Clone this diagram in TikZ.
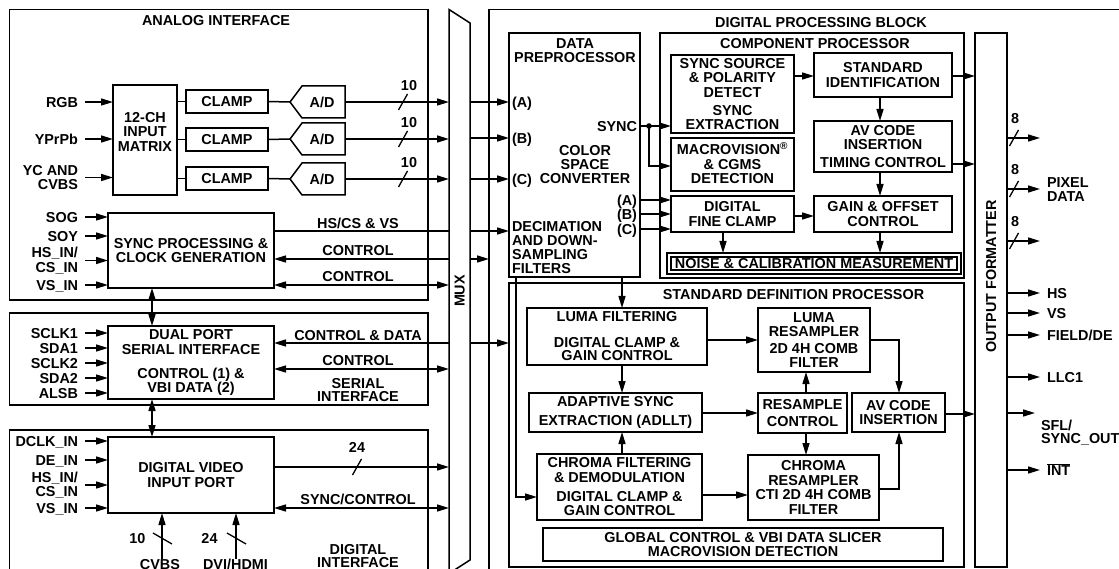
\documentclass[tikz,border=0pt]{standalone}
\usepackage{fontspec}
\setmainfont{Liberation Sans}
\usetikzlibrary{arrows.meta}
\tikzset{
  every node/.style={font=\fontsize{14.4}{14.5}\selectfont\bfseries, inner sep=0pt, outer sep=0pt},
  box/.style={draw, line width=1.5pt, align=center},
  ln/.style={line width=1.5pt},
  arr/.style={ln,-{Triangle[length=12pt,width=7pt]}},
  darr/.style={ln,{Triangle[length=12pt,width=7pt]}-{Triangle[length=12pt,width=7pt]}},
  lbl/.style={text height=10.3pt, text depth=0pt},
}
\newcommand\blk[7][]{\node[box,minimum width={#5-#3},minimum height={#6-#4},#1] (#2) at ({(#3+#5)/2},{(#4+#6)/2}) {#7};}
\newcommand\busmark[2]{\draw[line width=1.3pt] (#1-4.5,#2+8) -- (#1+4.5,#2-8);}
\begin{document}
\begin{tikzpicture}[x=1pt,y=-1pt]
\useasboundingbox (0,0) rectangle (1119,569);
\fill[white] (0,0) rectangle (1119,569);
\clip (0,0) rectangle (1119,569);

% ---------- containers ----------
\blk{ai}{9.5}{9.5}{428}{300}{}
\blk{si}{9.5}{313}{428}{405}{}
\blk{di}{9.5}{430}{428}{600}{}
\blk{dpb}{489}{9.5}{1140}{600}{}
\node[lbl] (tai) at (216,20) {ANALOG INTERFACE};
\node[lbl] (tdpb) at (821,22) {DIGITAL PROCESSING BLOCK};

% ---------- MUX ----------
\draw[ln] (449,573.5) -- (449,9.5) -- (470,23) -- (470,560) -- cycle;
\coordinate (muxl) at (449,0);
\coordinate (muxr) at (470,0);
\node[lbl,rotate=90] (tmux) at (459.5,291) {MUX};

% ---------- analog front end ----------
\blk{mtx}{113}{85}{177}{195}{}
\node[align=center] (tmtx) at (145,131.5) {12-CH\\INPUT\\MATRIX};
\blk{clA}{186}{90}{268}{113}{CLAMP}
\blk{clB}{186}{128}{268}{151}{CLAMP}
\blk{clC}{186}{167}{268}{190}{CLAMP}
\foreach \c/\n in {102/A,139/B,179/C}{
  \draw[ln] (290,\c) -- (302,\c-16) -- (345,\c-16) -- (345,\c+16) -- (302,\c+16) -- cycle;
  \coordinate (ad\n i) at (290,\c);
  \coordinate (ad\n o) at (345,\c);
  \node[lbl] (tad\n) at (322,\c) {A/D};
  \node[lbl] (ten\n) at (409,\c-17) {10};
  \busmark{403}{\c}
}
\draw[ln] (mtx.east |- clA.west) -- (clA.west);
\draw[ln] (mtx.east |- clB.west) -- (clB.west);
\draw[ln] (mtx.east |- clC.west) -- (clC.west);
\draw[ln] (clA.east) -- (adAi);
\draw[ln] (clB.east) -- (adBi);
\draw[ln] (clC.east) -- (adCi);
\draw[arr] (adAo) -- (muxl |- adAo);
\draw[arr] (adBo) -- (muxl |- adBo);
\draw[arr] (adCo) -- (muxl |- adCo);

\node[lbl,anchor=east] (rgb) at (78,102) {RGB};
\node[lbl,anchor=east] (ypb) at (78,139) {YPrPb};
\node[anchor=east,align=right] (ycv) at (78,177.5) {YC AND\\CVBS};
\draw[arr] ([xshift=7pt]rgb.east) -- (mtx.west |- rgb.east);
\draw[arr] ([xshift=7pt]ypb.east) -- (mtx.west |- ypb.east);
\draw[arr] ([xshift=7pt]ycv.east) -- (mtx.west |- ycv.east);

% ---------- sync processing ----------
\blk{syn}{108}{213}{274}{288}{SYNC PROCESSING \&\\CLOCK GENERATION}
\node[lbl,anchor=east] (sog) at (78,217) {SOG};
\node[lbl,anchor=east] (soy) at (78,236) {SOY};
\node[anchor=east,align=right] (hsa) at (78,260.5) {HS\_IN/\\CS\_IN};
\node[lbl,anchor=east] (vsa) at (78,285) {VS\_IN};
\foreach \n in {sog,soy,hsa,vsa}{\draw[arr] ([xshift=7pt]\n.east) -- (syn.west |- \n.east);}

\draw[ln] (syn.east |- 0,231) -- (muxl |- 0,231);
\draw[arr] (muxl |- 0,259) -- (syn.east |- 0,259);
\draw[darr] (syn.east |- 0,285) -- (muxl |- 0,285);
\node[lbl] (lhs) at (358,223) {HS/CS \& VS};
\node[lbl] (lc1) at (358,250) {CONTROL};
\node[lbl] (lc2) at (358,276) {CONTROL};

% ---------- serial interface ----------
\blk{ser}{108}{326}{274}{399}{DUAL PORT\\SERIAL INTERFACE\\[9.5pt]CONTROL (1) \&\\VBI DATA (2)}
\node[lbl,anchor=east] (sc1) at (78,333) {SCLK1};
\node[lbl,anchor=east] (sd1) at (78,348) {SDA1};
\node[lbl,anchor=east] (sc2) at (78,363) {SCLK2};
\node[lbl,anchor=east] (sd2) at (78,378) {SDA2};
\node[lbl,anchor=east] (als) at (78,393) {ALSB};
\foreach \n in {sc1,sd1,sc2,sd2,als}{\draw[arr] ([xshift=7pt]\n.east) -- (ser.west |- \n.east);}
\draw[darr] (syn.south -| 152,0) -- (ser.north -| 152,0);
\draw[arr] (muxl |- 0,343) -- (ser.east |- 0,343);
\draw[darr] (ser.east |- 0,369) -- (muxl |- 0,369);
\node[lbl] (lcd) at (358,335) {CONTROL \& DATA};
\node[lbl] (lc3) at (358,360) {CONTROL};
\node[align=center] (lsi) at (358,390.5) {SERIAL\\[-1.5pt]INTERFACE};

% ---------- digital video input ----------
\blk{dvip}{108}{437}{274}{513}{DIGITAL VIDEO\\INPUT PORT}
\node[lbl,anchor=east] (dck) at (78,441) {DCLK\_IN};
\node[lbl,anchor=east] (den) at (78,460) {DE\_IN};
\node[anchor=east,align=right] (hsd) at (78,485) {HS\_IN/\\CS\_IN};
\node[lbl,anchor=east] (vsd) at (78,508) {VS\_IN};
\foreach \n in {dck,den,hsd,vsd}{\draw[arr] ([xshift=7pt]\n.east) -- (dvip.west |- \n.east);}
\draw[darr] (ser.south -| 152,0) -- (dvip.north -| 152,0);
\draw[arr] (dvip.east |- 0,467) -- (muxl |- 0,467);
\busmark{357}{467}
\node[lbl] (l24) at (357,447) {24};
\draw[darr] (dvip.east |- 0,508) -- (muxl |- 0,508);
\node[lbl] (lsc) at (358,499) {SYNC/CONTROL};
\node[lbl] (cvbs) at (160,564) {CVBS};
\node[lbl] (dvi) at (235.5,564) {DVI/HDMI};
\draw[arr] (cvbs.north -| 162,0) -- (dvip.south -| 162,0);
\draw[arr] (dvi.north -| 236,0) -- (dvip.south -| 236,0);
\draw[line width=1.3pt] (153,533) -- (172,544);
\draw[line width=1.3pt] (227,533) -- (246,544);
\node[lbl] (l10b) at (137.5,538) {10};
\node[lbl] (l24b) at (209.5,538) {24};
\node[align=center] (ldi) at (358,556.5) {DIGITAL\\[-1.5pt]INTERFACE};

% ---------- data preprocessor ----------
\blk{dpp}{509}{33}{640}{277}{}
\node[align=center] (tdpp) at (575,50.5) {DATA\\PREPROCESSOR};
\node[lbl,anchor=west] (pa) at (512,102) {(A)};
\node[lbl,anchor=west] (pb) at (512,138) {(B)};
\node[lbl,anchor=west] (pc) at (512,179) {(C)};
\node[align=center] (tcsc) at (585,165) {COLOR\\[-0.5pt]SPACE\\[-0.5pt]CONVERTER};
\node[lbl,anchor=east] (tsync) at (637,126) {SYNC};
\node[anchor=west,align=left] (tdec) at (512,248) {DECIMATION\\[-0.5pt]AND DOWN-\\[-0.5pt]SAMPLING\\[-0.5pt]FILTERS};
\node[lbl,anchor=east] (qa) at (637,200) {(A)};
\node[lbl,anchor=east] (qb) at (637,214) {(B)};
\node[lbl,anchor=east] (qc) at (637,229) {(C)};

\draw[arr] (muxr |- pa.west) -- (dpp.west |- pa.west);
\draw[arr] (muxr |- pb.west) -- (dpp.west |- pb.west);
\draw[arr] (muxr |- pc.west) -- (dpp.west |- pc.west);
\draw[arr] (muxr |- 0,231) -- (dpp.west |- 0,231);
\draw[arr] (muxr |- 0,259) -- (dpb.west |- 0,259);

% ---------- component processor ----------
\blk{cp}{660}{33}{964}{278}{}
\node[lbl] (tcp) at (815,43) {COMPONENT PROCESSOR};
\blk{ssd}{671}{55}{794}{133}{SYNC SOURCE\\\& POLARITY\\DETECT\\[3.5pt]SYNC\\EXTRACTION}
\blk{mcv}{671}{138}{794}{191}{MACROVISION\smash{\textsuperscript{\textregistered}}\\\& CGMS\\DETECTION}
\blk{fcl}{671}{196}{794}{232}{DIGITAL\\FINE CLAMP}
\blk{sid}{814}{53}{952}{97}{STANDARD\\IDENTIFICATION}
\blk{avc}{814}{121}{952}{172}{AV CODE\\INSERTION\\[3.5pt]TIMING CONTROL}
\blk{gof}{814}{196}{952}{232}{GAIN \& OFFSET\\CONTROL}
\blk[line width=1.2pt]{noise}{667}{253}{961}{274}{}
\blk[line width=1.2pt]{noisei}{671}{257}{957}{270}{NOISE \& CALIBRATION MEASUREMENT}

\coordinate (sdot) at (649,126);
\draw[arr] (dpp.east |- sdot) -- (ssd.west |- sdot);
\draw[arr] (sdot) |- (mcv.west |- 0,166);
\fill (sdot) circle (2.8pt);
\draw[arr] (dpp.east |- qa.east) -- (fcl.west |- qa.east);
\draw[arr] (dpp.east |- qb.east) -- (fcl.west |- qb.east);
\draw[arr] (dpp.east |- qc.east) -- (fcl.west |- qc.east);
\draw[arr] (ssd.east |- 0,76) -- (sid.west |- 0,76);
\draw[arr] (sid.south -| 880,0) -- (avc.north -| 880,0);
\draw[arr] (avc.south -| 880,0) -- (gof.north -| 880,0);
\draw[arr] (gof.south -| 880,0) -- (noise.north -| 880,0);
\draw[arr] (fcl.south -| 723,0) -- (noise.north -| 723,0);
\draw[arr] (fcl.east |- 0,216) -- (gof.west |- 0,216);

% ---------- output formatter ----------
\blk{of}{975}{33}{1007}{567}{}
\node[lbl,rotate=90] (tof) at (991,276.5) {OUTPUT FORMATTER};
\draw[arr] (sid.east |- 0,76) -- (of.west |- 0,76);
\draw[arr] (avc.east |- 0,164) -- (of.west |- 0,164);

% ---------- standard definition processor ----------
\blk{sdp}{509}{283}{964}{567}{}
\node[lbl] (tsdp) at (793.5,294) {STANDARD DEFINITION PROCESSOR};
\blk{lf}{527}{308}{707}{365}{LUMA FILTERING\\[11pt]DIGITAL CLAMP \&\\[-1pt]GAIN CONTROL}
\blk{asx}{529}{393}{702}{432}{ADAPTIVE SYNC\\[4.5pt]EXTRACTION (ADLLT)}
\blk{cf}{537}{454}{702}{520}{CHROMA FILTERING\\\& DEMODULATION\\[4.5pt]DIGITAL CLAMP \&\\GAIN CONTROL}
\blk{lr}{758}{308}{870}{372}{LUMA\\RESAMPLER\\[2pt]2D 4H COMB\\FILTER}
\blk{rc}{758}{393}{847}{433}{RESAMPLE\\[2pt]CONTROL}
\blk{cr}{748}{455}{879}{520}{CHROMA\\RESAMPLER\\CTI 2D 4H COMB\\FILTER}
\blk{avs}{852}{393}{945}{432}{AV CODE\\INSERTION}
\blk{gc}{543}{528}{943}{561}{GLOBAL CONTROL \& VBI DATA SLICER\\MACROVISION DETECTION}

\draw[arr] (muxr |- 0,343) -- (sdp.west |- 0,343);
\draw[arr] (dpp.south -| 622,0) -- (lf.north -| 622,0);
\draw[arr] (dpp.south -| 516,0) |- (cf.west |- 0,497);
\draw[arr] (lf.south -| 622,0) -- (asx.north -| 622,0);
\draw[arr] (cf.north -| 622,0) -- (asx.south -| 622,0);
\draw[arr] (lf.east |- 0,340) -- (lr.west |- 0,340);
\draw[arr] (asx.east |- 0,413) -- (rc.west |- 0,413);
\draw[arr] (cf.east |- 0,495) -- (cr.west |- 0,495);
\draw[arr] (rc.north -| 806,0) -- (lr.south -| 806,0);
\draw[arr] (rc.south -| 806,0) -- (cr.north -| 806,0);
\draw[arr] (lr.east |- 0,340) -| (avs.north -| 899,0);
\draw[arr] (cr.east |- 0,489) -| (avs.south -| 899,0);
\draw[arr] (avs.east |- 0,414) -- (of.west |- 0,414);

% ---------- outputs ----------
\foreach \y/\n in {138/o1,189/o2,241/o3}{
  \coordinate (\n) at (1040,\y);
  \draw[arr] (of.east |- \n) -- (\n);
  \busmark{1014}{\y}
  \node[lbl] (t\n) at (1015,\y-20) {8};
}
\node[anchor=west,align=left] (pix) at (1047,189.5) {PIXEL\\DATA};
\node[lbl,anchor=west] (ohs) at (1047,293) {HS};
\node[lbl,anchor=west] (ovs) at (1047,313) {VS};
\node[lbl,anchor=west] (ofd) at (1047,335) {FIELD/DE};
\node[lbl,anchor=west] (oll) at (1047,377) {LLC1};
\node[lbl,anchor=west] (oin) at (1047,470) {$\overline{\mbox{INT}}$};
\foreach \n in {ohs,ovs,ofd,oll,oin}{\draw[arr] (of.east |- \n.west) -- ([xshift=-7pt]\n.west);}
\node[anchor=west,align=left] (osf) at (1041,432.5) {SFL/\\[-1.5pt]SYNC\_OUT};
\coordinate (osfa) at (1035,413);
\draw[arr] (of.east |- osfa) -- (osfa);
\end{tikzpicture}
\end{document}
